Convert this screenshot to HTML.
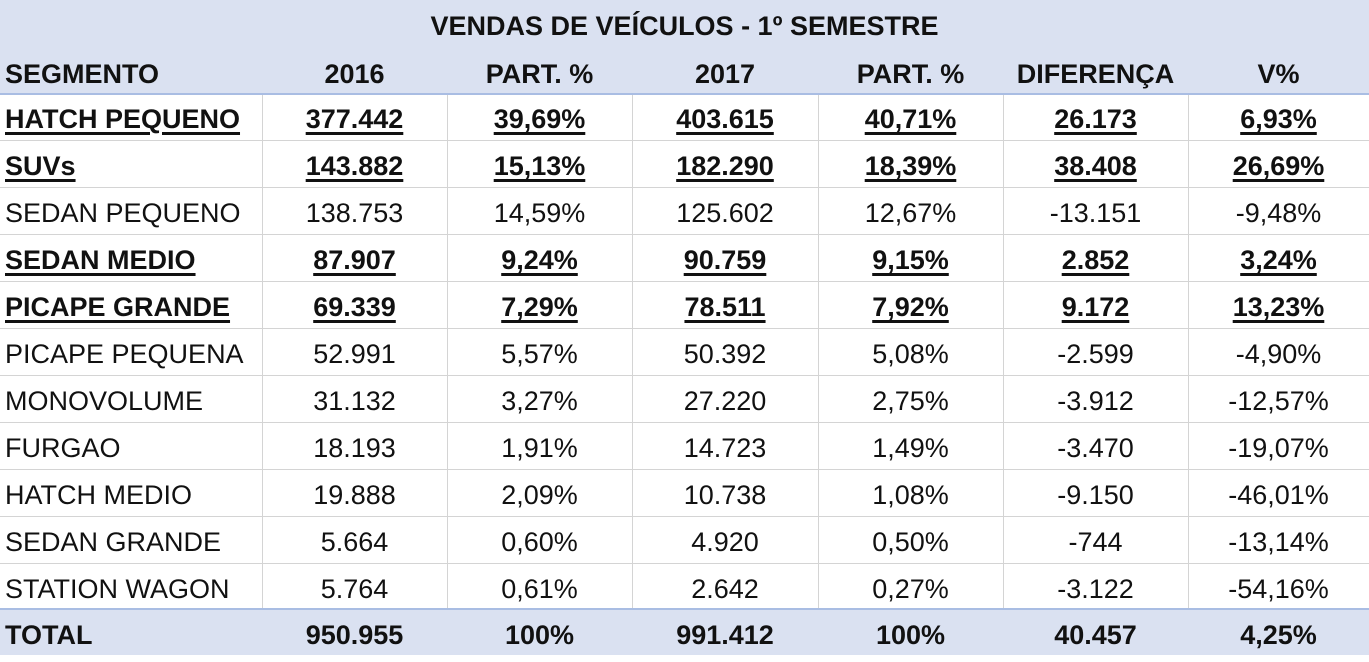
<!DOCTYPE html>
<html><head><meta charset="utf-8"><style>
body{margin:0;width:1369px;height:662px;background:#fff;overflow:hidden;font-family:"Liberation Sans",sans-serif;color:#111;}
.hd{position:absolute;left:0;width:1369px;background:#dae1f1;}
.r{position:absolute;left:0;width:1369px;height:47px;}
.c{position:absolute;top:3px;height:47px;line-height:47px;text-align:center;font-size:27px;white-space:nowrap;}
.c.l{text-align:left;padding-left:5px;}
.b{font-weight:bold;}
.u span{text-decoration:underline;text-decoration-thickness:3px;text-underline-offset:4px;}
.hl{position:absolute;left:0;width:1369px;height:1px;background:#d4d4d4;}
.vl{position:absolute;width:1px;background:#d4d4d4;top:94px;height:516px;}
.bl{position:absolute;left:0;width:1369px;height:2px;background:#a9bde3;}
</style></head><body>
<div class="hd" style="top:0;height:93px"></div>
<div class="hd" style="top:610px;height:45px"></div>
<div style="position:absolute;top:2px;left:0;width:1369px;height:48px;line-height:48px;text-align:center;font-weight:bold;font-size:27px">VENDAS DE VEÍCULOS - 1º SEMESTRE</div>
<div class="vl" style="left:262px"></div><div class="vl" style="left:447px"></div><div class="vl" style="left:632px"></div><div class="vl" style="left:818px"></div><div class="vl" style="left:1003px"></div><div class="vl" style="left:1188px"></div>
<div class="hl" style="top:140px"></div><div class="hl" style="top:187px"></div><div class="hl" style="top:234px"></div><div class="hl" style="top:281px"></div><div class="hl" style="top:328px"></div><div class="hl" style="top:375px"></div><div class="hl" style="top:422px"></div><div class="hl" style="top:469px"></div><div class="hl" style="top:516px"></div><div class="hl" style="top:563px"></div>
<div class="bl" style="top:93px"></div><div class="bl" style="top:608px"></div>
<div id="t"></div>
<script>
var rows=[
["SEGMENTO","2016","PART. %","2017","PART. %","DIFERENÇA","V%","h"],
["HATCH PEQUENO","377.442","39,69%","403.615","40,71%","26.173","6,93%","u"],
["SUVs","143.882","15,13%","182.290","18,39%","38.408","26,69%","u"],
["SEDAN PEQUENO","138.753","14,59%","125.602","12,67%","-13.151","-9,48%",""],
["SEDAN MEDIO","87.907","9,24%","90.759","9,15%","2.852","3,24%","u"],
["PICAPE GRANDE","69.339","7,29%","78.511","7,92%","9.172","13,23%","u"],
["PICAPE PEQUENA","52.991","5,57%","50.392","5,08%","-2.599","-4,90%",""],
["MONOVOLUME","31.132","3,27%","27.220","2,75%","-3.912","-12,57%",""],
["FURGAO","18.193","1,91%","14.723","1,49%","-3.470","-19,07%",""],
["HATCH MEDIO","19.888","2,09%","10.738","1,08%","-9.150","-46,01%",""],
["SEDAN GRANDE","5.664","0,60%","4.920","0,50%","-744","-13,14%",""],
["STATION WAGON","5.764","0,61%","2.642","0,27%","-3.122","-54,16%",""],
["TOTAL","950.955","100%","991.412","100%","40.457","4,25%","h"]];
var x=[0,262,447,632,818,1003,1188,1369],h="";
rows.forEach(function(r,i){var top=i==0?48:(i==12?609:93+(i-1)*47);
var cls=r[7]=="h"?"b":(r[7]=="u"?"b u":"");
h+='<div class="r" style="top:'+top+'px">';
for(var j=0;j<7;j++){h+='<div class="c '+cls+(j==0?' l':'')+'" style="left:'+x[j]+'px;width:'+(x[j+1]-x[j]-(j==0?5:0))+'px"><span>'+r[j]+'</span></div>';}
h+='</div>';});
document.getElementById('t').innerHTML=h;
</script>
</body></html>
